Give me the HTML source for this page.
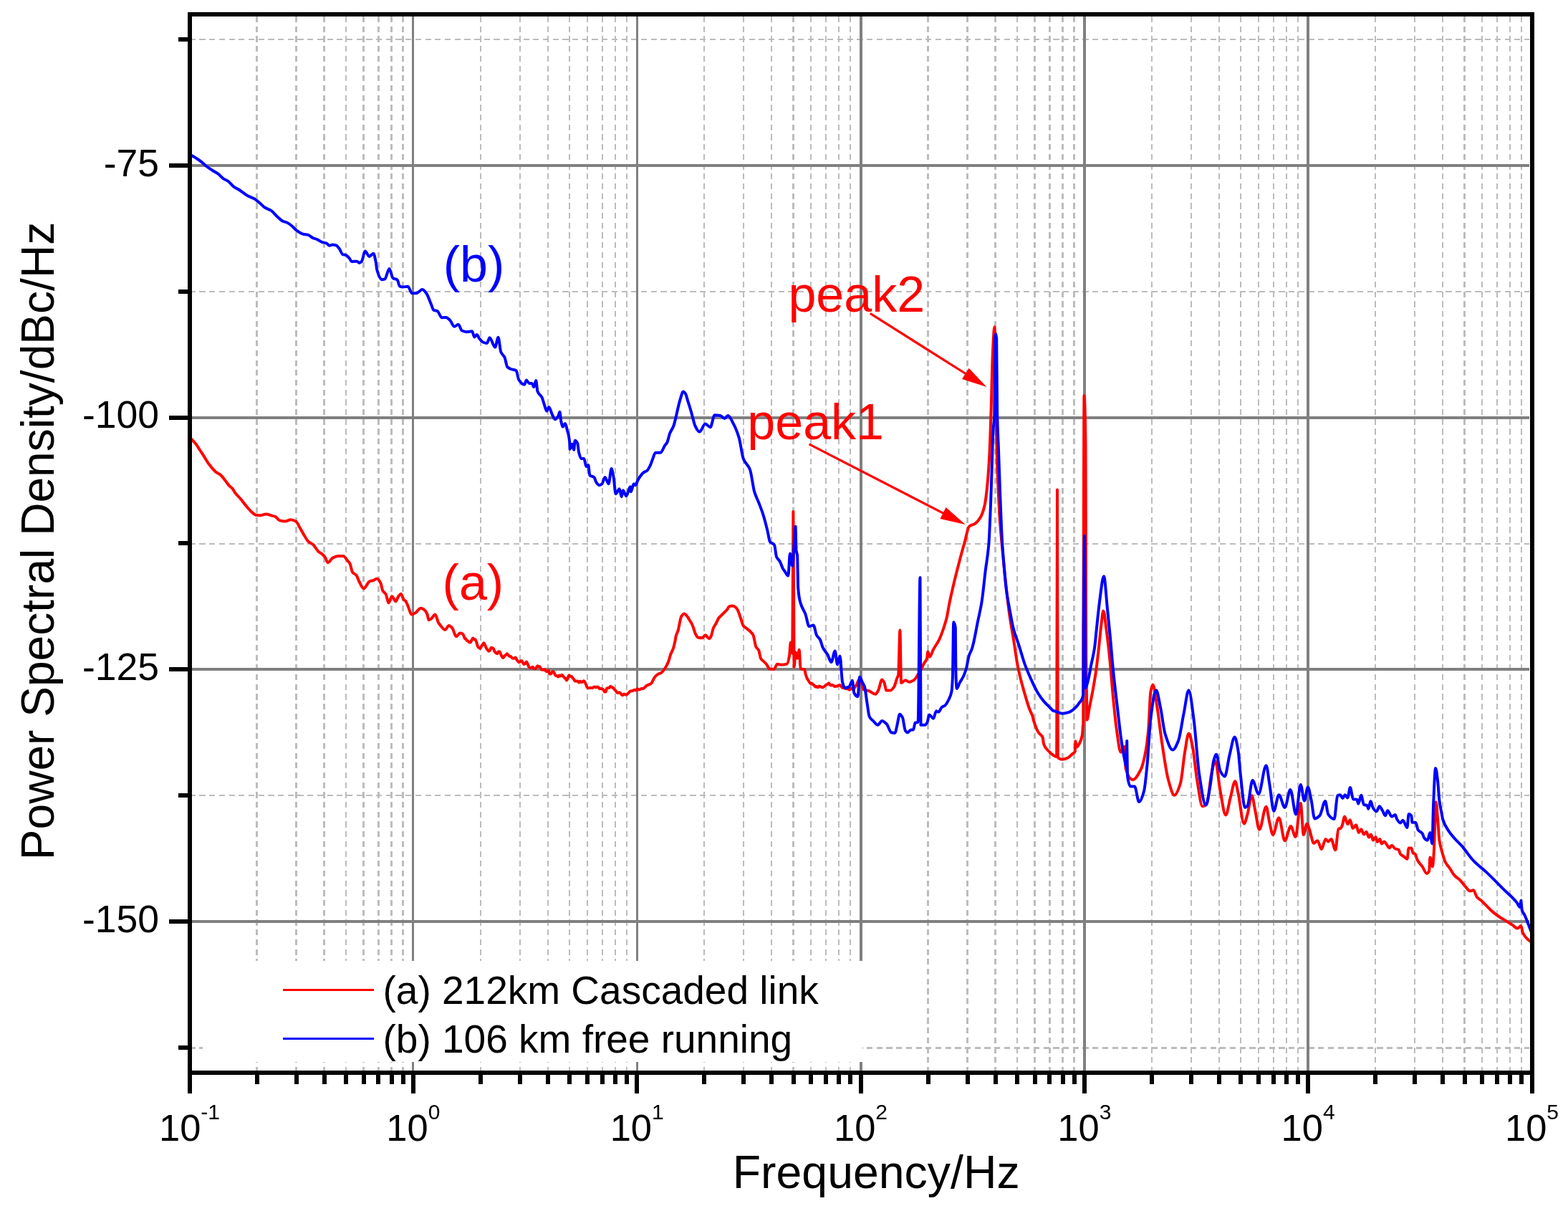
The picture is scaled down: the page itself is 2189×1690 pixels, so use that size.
<!DOCTYPE html>
<html><head><meta charset="utf-8"><title>Power Spectral Density</title>
<style>html,body{margin:0;padding:0;background:#fff;}svg{display:block;}text{font-family:"Liberation Sans",Arial,sans-serif;}</style></head><body>
<svg width="2189" height="1690" viewBox="0 0 2189 1690">
<rect x="0" y="0" width="2189" height="1690" fill="#fff"/>
<g fill="none" stroke="#bcbcbc" stroke-width="2.5" shape-rendering="crispEdges">
<path d="M358.5 23V1494 M413.5 23V1494 M452.5 23V1494 M482.8 23V1494 M507.5 23V1494 M528.4 23V1494 M546.6 23V1494 M562.5 23V1494 M670.9 23V1494 M725.8 23V1494 M764.9 23V1494 M795.1 23V1494 M819.9 23V1494 M840.8 23V1494 M858.9 23V1494 M874.9 23V1494 M983.2 23V1494 M1038.2 23V1494 M1077.2 23V1494 M1107.5 23V1494 M1132.2 23V1494 M1153.1 23V1494 M1171.2 23V1494 M1187.2 23V1494 M1295.5 23V1494 M1350.5 23V1494 M1389.5 23V1494 M1419.8 23V1494 M1444.5 23V1494 M1465.4 23V1494 M1483.6 23V1494 M1499.5 23V1494 M1607.8 23V1494 M1662.8 23V1494 M1701.9 23V1494 M1732.1 23V1494 M1756.9 23V1494 M1777.8 23V1494 M1795.9 23V1494 M1811.9 23V1494 M1920.2 23V1494 M1975.2 23V1494 M2014.2 23V1494 M2044.5 23V1494 M2069.2 23V1494 M2090.1 23V1494 M2108.2 23V1494 M2124.2 23V1494" stroke-dasharray="8.2 5.5" stroke-dashoffset="0"/>
<path d="M268 55.0H2135 M268 407.0H2135 M268 759.0H2135 M268 1110.0H2135 M268 1462.3H2135" stroke-dasharray="8.2 5.5" stroke-dashoffset="3.3"/>
</g>
<path d="M576.5 23V1494 M889.5 23V1494" fill="none" stroke="#808080" stroke-width="3" shape-rendering="crispEdges"/>
<path d="M1202 23V1494 M1514 23V1494 M1826 23V1494 M268 231H2135 M268 583H2135 M268 934H2135 M268 1286H2135" fill="none" stroke="#808080" stroke-width="4" shape-rendering="crispEdges"/>
<rect x="283" y="1341" width="921" height="141" fill="#fff"/>
<path d="M265.9 611.4C268.3 614.0 270.6 616.1 273.0 619.1C275.0 621.6 277.0 625.0 279.0 628.0C280.6 630.3 282.1 632.7 283.7 635.1C286.5 639.3 289.2 644.5 292.0 648.1C295.2 652.3 298.3 656.4 301.5 658.8C303.5 660.3 305.4 660.8 307.4 662.4C309.8 664.3 312.2 667.8 314.6 670.7C316.6 673.1 318.5 676.5 320.5 678.4C321.7 679.6 322.9 680.1 324.1 681.3C325.7 682.9 327.2 686.5 328.8 688.5C331.2 691.5 333.5 693.4 335.9 696.2C337.9 698.6 339.9 701.5 341.9 703.9C344.7 707.3 347.4 710.9 350.2 713.4C352.6 715.5 354.9 718.3 357.3 718.7C359.3 719.0 361.2 719.3 363.2 719.3C366.0 719.3 368.7 717.5 371.5 717.5C373.9 717.5 376.2 718.6 378.6 719.3C380.6 719.9 382.6 720.2 384.6 721.1C386.6 722.0 388.5 725.9 390.5 726.4C393.1 727.1 395.6 727.6 398.2 727.6C400.8 727.6 403.3 725.2 405.9 725.2C408.3 725.2 410.6 726.3 413.0 727.6C415.0 728.7 417.0 733.8 419.0 737.1C420.6 739.7 422.1 742.8 423.7 745.4C426.1 749.3 428.4 754.1 430.8 756.1C432.8 757.8 434.7 758.0 436.7 759.6C439.5 761.8 442.3 768.0 445.1 770.3C446.7 771.6 448.2 772.0 449.8 773.3C451.1 774.3 452.4 775.6 453.7 777.4C455.1 779.2 456.4 785.2 457.8 785.2C460.1 785.2 462.4 779.3 464.7 778.3C467.4 777.1 470.2 776.0 472.9 776.0C475.0 776.0 477.2 776.0 479.3 776.0C481.1 776.0 483.0 779.9 484.8 782.0C486.0 783.4 487.3 784.4 488.5 786.6C489.7 788.8 490.9 796.9 492.1 798.5C493.9 801.0 495.8 800.7 497.6 803.0C498.8 804.5 500.1 809.0 501.3 811.3C503.4 815.3 505.6 821.4 507.7 821.4C510.4 821.4 513.2 812.4 515.9 811.3C517.7 810.6 519.6 810.5 521.4 809.9C522.9 809.4 524.5 807.6 526.0 807.6C527.8 807.6 529.7 810.5 531.5 814.0C532.4 815.7 533.3 822.4 534.2 824.1C535.7 827.0 537.3 826.9 538.8 829.6C540.0 831.8 541.3 841.5 542.5 841.5C544.0 841.5 545.6 832.3 547.1 832.3C548.9 832.3 550.8 839.2 552.6 839.2C553.8 839.2 555.0 833.9 556.2 832.3C557.4 830.7 558.7 828.7 559.9 828.7C561.1 828.7 562.4 835.6 563.6 836.9C564.5 837.8 565.4 837.9 566.3 838.8C567.5 840.1 568.8 844.2 570.0 847.0C571.5 850.4 573.0 857.5 574.5 857.5C576.3 857.5 578.2 856.2 580.0 855.2C582.5 853.8 584.9 848.8 587.4 848.8C588.9 848.8 590.4 849.7 591.9 850.7C593.4 851.7 595.0 853.6 596.5 857.1C597.1 858.5 597.8 865.3 598.4 865.3C599.6 865.3 600.8 864.3 602.0 863.5C603.8 862.3 605.7 857.5 607.5 857.5C609.0 857.5 610.6 866.4 612.1 869.0C613.0 870.5 613.9 871.6 614.8 872.6C616.9 875.1 619.1 879.0 621.2 879.0C623.0 879.0 624.9 873.1 626.7 873.1C628.2 873.1 629.8 874.7 631.3 876.3C633.1 878.2 635.0 888.2 636.8 888.2C638.6 888.2 640.5 883.6 642.3 883.6C643.5 883.6 644.8 884.0 646.0 884.5C647.2 885.0 648.3 891.5 649.5 891.5L650.0 891.3C650.6 891.3 651.1 893.4 651.7 893.8C652.3 894.3 652.8 894.3 653.4 894.7C654.0 895.1 654.5 896.1 655.1 896.3C655.7 896.5 656.2 896.6 656.8 896.6C657.4 896.6 657.9 894.4 658.5 893.4C659.1 892.4 659.6 890.6 660.2 890.6C660.8 890.6 661.3 891.7 661.9 892.0C662.5 892.3 663.0 892.3 663.6 892.7C664.2 893.1 664.7 894.9 665.3 896.4C665.9 897.9 666.4 901.6 667.0 902.4C667.6 903.2 668.1 903.4 668.7 903.9C669.3 904.4 669.8 905.2 670.4 905.2C671.0 905.2 671.5 902.9 672.1 901.9C672.7 901.0 673.2 900.2 673.8 899.4C674.4 898.7 674.9 897.3 675.5 897.3C676.1 897.3 676.6 899.3 677.2 900.5C677.8 901.7 678.3 903.6 678.9 904.5C679.5 905.5 680.0 906.1 680.6 906.8C681.2 907.5 681.7 908.8 682.3 908.8C682.9 908.8 683.4 908.2 684.0 907.5C684.6 906.9 685.1 903.7 685.7 903.7C686.3 903.7 686.8 904.0 687.4 904.2C688.0 904.4 688.5 905.0 689.1 905.8C689.7 906.6 690.2 908.8 690.8 909.6C691.4 910.3 691.9 910.8 692.5 911.2C693.1 911.6 693.6 912.2 694.2 912.2C694.8 912.2 695.3 909.3 695.9 909.3C696.5 909.3 697.0 909.4 697.6 909.6C698.2 909.8 698.7 912.2 699.3 913.4C699.9 914.6 700.4 916.3 701.0 916.9C701.6 917.4 702.1 918.0 702.7 918.0C703.3 918.0 703.8 915.5 704.4 915.1C705.0 914.6 705.5 914.6 706.1 914.2C706.7 913.8 707.2 912.3 707.8 912.3C708.4 912.3 708.9 913.6 709.5 914.2C710.1 914.8 710.6 915.8 711.2 915.9C711.8 915.9 712.3 915.9 712.9 916.0C713.5 916.1 714.0 917.5 714.6 917.9C715.2 918.3 715.7 918.8 716.3 918.8C716.9 918.8 717.4 918.7 718.0 918.7C718.6 918.6 719.1 917.6 719.7 917.6C720.3 917.6 720.8 919.9 721.4 920.8C722.0 921.6 722.5 922.2 723.1 922.8C723.7 923.3 724.2 924.3 724.8 924.3C725.4 924.3 725.9 923.3 726.5 923.0C727.1 922.6 727.6 922.1 728.2 922.1C728.8 922.1 729.3 924.0 729.9 924.8C730.5 925.6 731.0 926.9 731.6 926.9C732.2 926.9 732.7 926.6 733.3 926.2C733.9 925.8 734.4 923.6 735.0 923.6C735.6 923.6 736.1 925.6 736.7 926.7C737.3 927.9 737.8 930.1 738.4 930.7C739.0 931.4 739.5 932.0 740.1 932.0C740.7 932.0 741.2 931.9 741.8 931.7C742.4 931.6 742.9 930.8 743.5 930.8C744.1 930.8 744.6 932.6 745.2 932.8C745.8 933.0 746.3 933.2 746.9 933.2C747.5 933.2 748.0 932.5 748.6 931.9C749.2 931.3 749.7 929.3 750.3 929.3C750.9 929.3 751.4 929.9 752.0 930.0C752.6 930.2 753.1 930.1 753.7 930.3C754.3 930.5 754.8 933.4 755.4 933.9C756.0 934.4 756.5 934.8 757.1 934.8C757.7 934.8 758.2 934.7 758.8 934.7C759.4 934.6 759.9 934.3 760.5 934.3C761.1 934.3 761.6 936.2 762.2 936.6C762.8 936.9 763.3 937.2 763.9 937.2C764.5 937.2 765.0 935.6 765.6 935.6C766.2 935.6 766.7 940.3 767.3 940.5C767.9 940.6 768.4 940.6 769.0 940.6C769.6 940.6 770.1 938.2 770.7 937.8C771.3 937.3 771.8 936.9 772.4 936.9C773.0 936.9 773.5 938.9 774.1 939.9C774.7 941.0 775.2 943.1 775.8 943.1C776.4 943.1 776.9 943.1 777.5 943.1C778.1 943.1 778.6 944.6 779.2 944.6C779.8 944.6 780.3 942.5 780.9 942.5C781.5 942.5 782.0 943.4 782.6 943.4C783.2 943.4 783.7 941.8 784.3 941.8C784.9 941.8 785.4 942.8 786.0 943.4C786.6 944.0 787.1 945.1 787.7 945.6C788.3 946.1 788.8 946.3 789.4 946.8C790.0 947.4 790.5 949.4 791.1 949.4C791.7 949.4 792.2 946.8 792.8 945.6C793.4 944.4 793.9 942.3 794.5 942.3C795.1 942.3 795.6 944.0 796.2 944.0C796.8 944.1 797.3 944.1 797.9 944.1C798.5 944.1 799.0 945.6 799.6 946.3C800.2 947.0 800.7 947.7 801.3 948.4C801.9 949.1 802.4 950.5 803.0 950.6C803.6 950.6 804.1 950.6 804.7 950.6C805.3 950.6 805.8 950.5 806.4 950.5C807.0 950.5 807.5 952.4 808.1 952.4C808.7 952.4 809.2 950.7 809.8 950.7C810.4 950.7 810.9 952.1 811.5 952.1C812.1 952.1 812.6 951.9 813.2 951.6C813.8 951.4 814.3 950.2 814.9 950.2C815.5 950.2 816.0 951.2 816.6 952.1C817.2 952.9 817.7 954.7 818.3 956.0C818.9 957.3 819.4 959.3 820.0 959.7C820.6 960.0 821.1 960.2 821.7 960.2C822.3 960.2 822.8 960.0 823.4 960.0C824.0 959.9 824.5 959.8 825.1 959.8C825.7 959.8 826.2 960.3 826.8 960.3C827.4 960.3 827.9 959.1 828.5 959.0C829.1 958.8 829.6 958.6 830.2 958.6C830.8 958.6 831.3 959.4 831.9 959.4C832.5 959.4 833.0 958.4 833.6 958.4C834.2 958.4 834.7 958.7 835.3 959.0C835.9 959.3 836.4 961.3 837.0 961.3C837.6 961.3 838.1 960.7 838.7 960.7C839.3 960.7 839.8 961.3 840.4 961.6C841.0 961.8 841.5 961.8 842.1 962.2C842.7 962.5 843.2 965.1 843.8 965.3C844.4 965.5 844.9 965.6 845.5 965.6C846.1 965.6 846.6 960.5 847.2 960.4C847.8 960.2 848.3 960.2 848.9 960.1C849.5 960.0 850.0 959.9 850.6 959.6C851.2 959.4 851.7 957.8 852.3 957.8C852.9 957.8 853.4 959.0 854.0 959.1C854.6 959.3 855.1 959.2 855.7 959.4C856.3 959.5 856.8 961.3 857.4 961.9C858.0 962.5 858.5 962.7 859.1 963.3C859.7 963.9 860.2 965.2 860.8 965.8C861.4 966.4 861.9 967.1 862.5 967.1C863.1 967.1 863.6 966.3 864.2 966.3C864.8 966.3 865.3 966.7 865.9 967.1C866.5 967.5 867.0 968.6 867.6 969.1C868.2 969.6 868.7 970.2 869.3 970.2C869.9 970.2 870.4 968.6 871.0 968.6C871.6 968.6 872.1 969.1 872.7 969.3C873.3 969.5 873.8 969.7 874.4 969.7C875.0 969.7 875.5 968.8 876.1 968.3C876.7 967.8 877.2 967.3 877.8 966.8C878.4 966.2 878.9 965.3 879.5 964.9C880.1 964.6 880.6 964.2 881.2 964.2C881.8 964.2 882.3 964.2 882.9 964.2C883.5 964.2 884.0 963.1 884.6 963.0C885.2 962.9 885.7 962.8 886.3 962.8C886.9 962.8 887.4 963.5 888.0 963.5C888.6 963.5 889.1 961.2 889.7 961.2C890.3 961.2 890.8 962.2 891.4 962.3C892.0 962.4 892.5 962.5 893.1 962.5C893.7 962.5 894.2 961.2 894.8 961.1C895.8 961.0 896.7 961.0 897.7 960.9C899.3 960.7 900.9 958.0 902.5 957.0C904.7 955.6 907.0 955.5 909.2 953.7C910.8 952.4 912.4 946.9 914.0 945.0C915.6 943.1 917.2 941.5 918.8 940.7C920.1 940.0 921.4 939.9 922.7 939.2C924.6 938.1 926.6 935.4 928.5 932.5C930.1 930.1 931.7 927.0 933.3 922.9C934.3 920.4 935.2 915.9 936.2 913.3C937.5 909.8 938.7 908.4 940.0 904.6C940.8 902.2 941.6 898.8 942.4 895.0C942.9 892.8 943.3 889.0 943.8 887.3C944.8 883.7 945.7 883.0 946.7 879.6C947.4 877.3 948.0 872.9 948.7 870.0C949.5 866.5 950.3 861.7 951.1 860.4C952.5 858.1 954.0 856.5 955.4 856.5C956.7 856.5 957.9 858.4 959.2 859.9C960.5 861.4 961.8 864.1 963.1 866.2C964.1 867.8 965.0 869.0 966.0 871.0C966.6 872.3 967.3 874.1 967.9 875.8C968.9 878.4 969.8 882.5 970.8 884.4C972.1 886.8 973.3 889.5 974.6 889.7C976.5 890.0 978.5 890.2 980.4 890.2C981.8 890.2 983.3 886.3 984.7 886.3C986.5 886.3 988.2 891.2 990.0 891.2C991.0 891.2 991.9 889.2 992.9 887.3C993.9 885.4 994.8 879.0 995.8 876.7C997.1 873.6 998.3 872.4 999.6 870.0C1000.9 867.6 1002.2 864.0 1003.5 862.3C1004.8 860.6 1006.0 859.8 1007.3 858.5C1008.6 857.2 1009.9 855.9 1011.2 854.6C1012.5 853.3 1013.7 852.3 1015.0 850.8C1016.0 849.6 1016.9 846.7 1017.9 846.4C1019.5 845.8 1021.1 845.5 1022.7 845.5C1024.3 845.5 1025.9 846.6 1027.5 847.9C1028.5 848.7 1029.4 850.7 1030.4 852.7C1031.7 855.3 1032.9 859.8 1034.2 863.3C1035.5 866.9 1036.8 872.3 1038.1 873.8C1039.4 875.3 1040.6 875.7 1041.9 876.7C1043.8 878.2 1045.8 879.5 1047.7 881.5C1049.0 882.8 1050.2 883.8 1051.5 886.3C1052.8 888.8 1054.1 900.2 1055.4 902.7C1056.7 905.2 1057.9 905.0 1059.2 907.5C1060.2 909.4 1061.1 917.4 1062.1 919.0C1063.4 921.1 1064.7 921.6 1066.0 922.9C1067.3 924.2 1068.5 925.2 1069.8 926.7C1071.4 928.6 1073.0 933.3 1074.6 933.5C1076.5 933.8 1078.5 933.9 1080.4 933.9C1082.0 933.9 1083.6 926.7 1085.2 926.7C1086.8 926.7 1088.4 927.7 1090.0 927.7C1092.9 927.7 1095.7 927.4 1098.6 926.6C1099.7 926.3 1100.9 921.4 1102.0 915.4C1102.6 912.2 1103.2 896.5 1103.8 896.5C1104.6 896.5 1105.5 911.9 1106.3 911.9L1107.4 714.1L1108.6 930.9C1109.3 930.9 1109.9 910.2 1110.6 910.2C1111.5 910.2 1112.3 918.8 1113.2 918.8C1114.1 918.8 1114.9 906.8 1115.8 906.8C1116.4 906.8 1116.9 932.2 1117.5 932.6C1119.2 933.9 1121.0 934.3 1122.7 934.3L1123.0 933.9C1123.6 933.9 1124.1 938.8 1124.7 940.8C1125.3 942.7 1125.8 944.7 1126.4 946.0C1127.0 947.2 1127.5 948.1 1128.1 949.0C1128.7 950.0 1129.2 950.9 1129.8 951.7C1130.4 952.5 1130.9 953.9 1131.5 953.9C1132.1 953.9 1132.6 953.6 1133.2 953.6C1133.8 953.6 1134.3 954.9 1134.9 955.3C1135.5 955.8 1136.0 955.9 1136.6 956.4C1137.2 956.9 1137.7 958.5 1138.3 958.5C1138.9 958.5 1139.4 958.1 1140.0 958.1C1140.6 958.1 1141.1 959.3 1141.7 959.3C1142.3 959.3 1142.8 957.5 1143.4 957.5C1144.0 957.5 1144.5 957.8 1145.1 958.0C1145.7 958.2 1146.2 958.6 1146.8 958.8C1147.4 959.0 1147.9 959.4 1148.5 959.4C1149.1 959.4 1149.6 958.7 1150.2 958.3C1150.8 957.9 1151.3 957.5 1151.9 957.0C1152.5 956.5 1153.0 955.5 1153.6 955.3C1154.2 955.1 1154.7 955.1 1155.3 954.9C1155.9 954.7 1156.4 953.3 1157.0 953.3C1157.6 953.3 1158.1 954.9 1158.7 955.4C1159.3 955.9 1159.8 956.6 1160.4 956.6C1161.0 956.6 1161.5 956.0 1162.1 956.0C1162.7 956.0 1163.2 956.6 1163.8 956.9C1164.4 957.3 1164.9 958.2 1165.5 958.2C1166.1 958.2 1166.6 957.5 1167.2 957.5C1167.8 957.5 1168.3 957.7 1168.9 957.7C1169.5 957.7 1170.0 956.5 1170.6 956.3C1171.2 956.1 1171.7 956.0 1172.3 956.0C1172.9 956.0 1173.4 956.8 1174.0 957.3C1174.6 957.9 1175.1 959.8 1175.7 959.8C1176.3 959.8 1176.8 959.6 1177.4 959.6C1178.0 959.6 1178.5 960.3 1179.1 960.5C1179.7 960.7 1180.2 960.9 1180.8 961.0C1181.4 961.0 1181.9 961.1 1182.5 961.2C1183.1 961.2 1183.6 961.2 1184.2 961.3C1184.8 961.4 1185.3 962.8 1185.9 962.8C1186.5 962.8 1187.0 961.1 1187.6 960.9C1188.2 960.7 1188.7 960.5 1189.3 960.5C1189.9 960.5 1190.4 962.4 1191.0 962.4C1191.6 962.4 1192.1 960.9 1192.7 960.2C1193.3 959.4 1193.8 958.7 1194.4 957.9C1196.7 954.5 1199.0 946.6 1201.3 946.6C1202.6 946.6 1203.9 961.5 1205.2 962.2C1207.8 963.6 1210.4 963.3 1213.0 964.2C1216.1 965.2 1219.1 968.8 1222.2 968.8C1223.5 968.8 1224.8 965.9 1226.1 963.5C1227.8 960.4 1229.6 948.5 1231.3 948.5C1232.4 948.5 1233.5 950.8 1234.6 953.1C1235.5 954.9 1236.3 963.5 1237.2 963.5C1239.2 963.5 1241.1 963.5 1243.1 963.5C1244.8 963.5 1246.6 961.0 1248.3 958.3C1249.6 956.3 1250.9 950.2 1252.2 946.6C1252.9 944.8 1253.5 944.5 1254.2 941.4C1254.9 938.0 1255.7 879.4 1256.4 879.4C1257.0 879.4 1257.5 953.1 1258.1 953.1C1260.1 953.1 1262.0 949.2 1264.0 949.2C1265.7 949.2 1267.5 951.8 1269.2 951.8C1271.4 951.8 1273.5 950.5 1275.7 949.2C1277.7 948.0 1279.6 944.4 1281.6 941.4C1283.1 939.1 1284.6 936.3 1286.1 933.5C1287.4 931.1 1288.7 928.0 1290.0 925.7C1291.3 923.3 1292.7 923.2 1294.0 919.2C1294.4 917.9 1294.9 909.4 1295.3 909.4C1296.2 909.4 1297.0 916.6 1297.9 916.6C1299.6 916.6 1301.4 909.3 1303.1 906.1C1305.7 901.3 1308.3 898.4 1310.9 893.1C1313.1 888.6 1315.3 882.6 1317.5 876.1C1318.8 872.3 1320.1 868.4 1321.4 863.1C1322.8 857.5 1324.1 848.1 1325.5 841.4C1327.3 832.5 1329.2 824.6 1331.0 816.8C1333.7 805.2 1336.5 794.4 1339.2 784.0C1341.9 773.6 1344.7 763.8 1347.4 754.0C1349.2 747.5 1351.0 736.6 1352.8 734.9C1355.5 732.4 1358.3 732.7 1361.0 730.8C1363.7 728.9 1366.5 725.9 1369.2 721.2C1371.0 718.0 1372.9 712.9 1374.7 704.8C1376.1 698.7 1377.4 686.7 1378.8 672.1C1379.7 662.5 1380.6 649.0 1381.5 631.1C1382.3 615.2 1383.1 589.7 1383.9 563.4C1384.4 545.8 1385.0 513.8 1385.5 501.7C1386.5 478.9 1387.5 456.2 1388.5 456.2C1389.1 456.2 1389.6 516.9 1390.2 549.0C1390.7 575.4 1391.1 614.2 1391.6 631.1C1392.5 664.8 1393.5 678.9 1394.4 699.4L1395.3 717.8C1396.8 741.7 1398.3 754.7 1399.8 771.1C1401.3 787.1 1402.7 802.2 1404.2 815.6C1406.0 832.0 1407.8 847.5 1409.6 860.0C1411.4 872.3 1413.1 881.1 1414.9 892.0C1417.0 904.7 1419.0 920.9 1421.1 931.1C1423.8 944.3 1426.4 953.6 1429.1 963.1C1432.1 973.7 1435.0 983.9 1438.0 991.6C1439.2 994.7 1440.4 995.9 1441.6 999.7L1442.7 1004.6C1445.1 1012.7 1447.4 1018.5 1449.8 1022.3C1451.8 1025.5 1453.8 1024.5 1455.8 1029.5L1456.9 1037.8C1459.3 1044.9 1461.7 1045.8 1464.1 1048.4C1466.5 1050.9 1468.8 1053.2 1471.2 1054.4C1472.5 1055.1 1473.9 1056.0 1475.2 1056.0L1476.0 683.4L1476.8 1057.0C1478.9 1059.4 1480.9 1059.7 1483.0 1059.7C1485.4 1059.7 1487.8 1058.8 1490.2 1057.9C1492.6 1057.0 1494.9 1054.2 1497.3 1052.0C1498.5 1050.9 1499.6 1051.3 1500.8 1048.4L1501.4 1034.2C1502.0 1034.2 1502.6 1042.5 1503.2 1042.5C1504.4 1042.5 1505.6 1039.9 1506.8 1037.8C1508.2 1035.4 1509.5 1032.8 1510.9 1025.9C1511.4 1023.5 1511.8 1010.5 1512.3 1010.5L1512.3 870.0C1512.7 870.0 1513.1 551.9 1513.5 551.9C1514.2 551.9 1514.8 572.8 1515.5 620.0L1516.3 919.0L1517.4 1004.6C1518.6 1004.6 1519.8 992.8 1521.0 986.8C1522.6 979.0 1524.1 971.7 1525.7 963.0C1527.3 954.1 1528.9 944.9 1530.5 933.4C1531.7 925.0 1532.8 914.1 1534.0 903.7C1535.2 893.0 1536.4 879.1 1537.6 870.0C1538.5 863.2 1539.4 852.5 1540.3 852.5C1541.8 852.5 1543.2 869.3 1544.7 880.0C1546.2 891.1 1547.8 904.9 1549.3 920.0C1550.8 935.1 1552.4 956.7 1553.9 972.5C1555.4 988.3 1557.0 1004.9 1558.5 1015.7C1560.6 1030.2 1562.6 1049.7 1564.7 1049.7C1566.5 1049.7 1568.3 1042.0 1570.1 1042.0C1570.6 1042.0 1571.1 1071.0 1571.6 1072.8C1574.9 1084.9 1578.3 1088.2 1581.6 1088.2C1585.2 1088.2 1588.8 1081.4 1592.4 1074.4C1594.5 1070.4 1596.5 1062.8 1598.6 1052.8C1600.1 1045.4 1601.7 1035.0 1603.2 1018.8C1604.2 1007.9 1605.3 972.4 1606.3 966.4C1607.3 960.4 1608.4 955.6 1609.4 955.6C1611.5 955.6 1613.5 975.3 1615.6 988.0C1617.7 1000.7 1619.7 1020.5 1621.8 1034.2C1624.9 1054.5 1627.9 1077.4 1631.0 1088.2C1633.8 1098.2 1636.7 1109.8 1639.5 1109.8C1642.3 1109.8 1645.2 1102.0 1648.0 1092.9C1650.0 1086.4 1652.1 1061.4 1654.1 1049.7C1655.9 1039.4 1657.7 1023.5 1659.5 1023.5C1661.3 1023.5 1663.1 1033.6 1664.9 1042.0C1667.0 1051.6 1669.0 1076.0 1671.1 1088.2C1673.7 1103.3 1676.2 1125.3 1678.8 1125.3C1680.9 1125.3 1682.9 1123.4 1685.0 1120.6C1687.1 1117.8 1689.1 1089.7 1691.2 1080.5C1693.0 1072.5 1694.8 1062.0 1696.6 1062.0C1698.9 1062.0 1701.2 1091.9 1703.5 1103.7C1706.1 1116.8 1708.6 1137.6 1711.2 1137.6C1713.4 1137.6 1715.6 1120.6 1717.8 1112.7C1720.0 1104.9 1722.1 1090.2 1724.3 1090.2C1725.7 1090.2 1727.1 1100.6 1728.5 1106.8C1731.3 1119.0 1734.0 1149.5 1736.8 1149.5C1738.4 1149.5 1739.9 1141.7 1741.5 1136.4C1743.5 1129.7 1745.5 1110.3 1747.5 1110.3C1749.1 1110.3 1750.6 1123.5 1752.2 1130.5C1754.2 1139.3 1756.1 1157.8 1758.1 1157.8C1761.3 1157.8 1764.4 1125.8 1767.6 1125.8C1769.2 1125.8 1770.8 1141.9 1772.4 1148.3C1774.0 1154.6 1775.5 1164.9 1777.1 1164.9C1779.9 1164.9 1782.6 1141.2 1785.4 1141.2C1788.2 1141.2 1790.9 1173.2 1793.7 1173.2C1796.5 1173.2 1799.2 1153.1 1802.0 1153.1C1804.2 1153.1 1806.4 1167.9 1808.6 1167.9C1811.0 1167.9 1813.3 1121.0 1815.7 1121.0C1817.1 1121.0 1818.4 1164.9 1819.8 1164.9C1821.4 1164.9 1823.0 1149.5 1824.6 1149.5C1825.8 1149.5 1826.9 1154.7 1828.1 1157.8C1830.1 1163.2 1832.1 1176.8 1834.1 1176.8C1835.9 1176.8 1837.6 1173.2 1839.4 1173.2C1841.2 1173.2 1843.0 1185.1 1844.8 1185.1C1846.8 1185.1 1848.7 1170.9 1850.7 1170.9C1851.9 1170.9 1853.0 1174.4 1854.2 1174.4C1855.6 1174.4 1857.0 1170.9 1858.4 1170.9C1860.4 1170.9 1862.3 1186.3 1864.3 1186.3C1865.7 1186.3 1867.1 1157.1 1868.5 1156.6C1869.4 1156.3 1870.4 1156.4 1871.3 1156.1C1872.1 1155.8 1872.8 1154.1 1873.6 1152.5C1874.8 1150.0 1876.0 1139.5 1877.2 1139.5C1878.6 1139.5 1879.9 1150.1 1881.3 1150.1C1882.5 1150.1 1883.7 1144.2 1884.9 1144.2C1886.1 1144.2 1887.3 1156.1 1888.5 1156.1C1890.1 1156.1 1891.6 1151.3 1893.2 1151.3C1894.4 1151.3 1895.6 1162.0 1896.8 1162.0C1898.0 1162.0 1899.1 1157.3 1900.3 1157.3C1901.5 1157.3 1902.7 1164.4 1903.9 1164.4C1905.1 1164.4 1906.2 1160.8 1907.4 1160.8C1908.6 1160.8 1909.8 1168.5 1911.0 1168.5C1912.0 1168.5 1913.0 1164.4 1914.0 1164.4C1915.0 1164.4 1915.9 1172.7 1916.9 1172.7C1918.1 1172.7 1919.3 1167.9 1920.5 1167.9C1921.3 1167.9 1922.1 1175.0 1922.9 1175.0C1924.1 1175.0 1925.2 1170.9 1926.4 1170.9C1927.2 1170.9 1928.0 1177.4 1928.8 1177.4C1930.0 1177.4 1931.2 1174.5 1932.4 1174.5C1933.6 1174.5 1934.7 1177.1 1935.9 1178.6C1937.1 1180.1 1938.3 1183.4 1939.5 1183.4C1940.7 1183.4 1941.8 1179.8 1943.0 1179.8C1944.6 1179.8 1946.2 1183.9 1947.8 1184.5C1949.4 1185.1 1950.9 1184.9 1952.5 1185.7C1953.3 1186.1 1954.1 1190.7 1954.9 1191.7C1956.5 1193.6 1958.0 1194.0 1959.6 1195.2C1961.2 1196.4 1962.8 1198.8 1964.4 1198.8C1965.2 1198.8 1965.9 1183.4 1966.7 1183.4C1967.9 1183.4 1969.1 1183.4 1970.3 1183.4C1971.1 1183.4 1971.9 1189.9 1972.7 1190.5C1973.7 1191.2 1974.6 1191.0 1975.6 1191.7C1976.6 1192.4 1977.6 1198.1 1978.6 1200.0C1981.0 1204.5 1983.3 1206.0 1985.7 1209.4C1987.7 1212.3 1989.7 1218.9 1991.7 1218.9C1992.9 1218.9 1994.0 1218.0 1995.2 1215.4C1995.6 1214.5 1996.0 1196.4 1996.4 1196.4C1997.6 1196.4 1998.7 1209.4 1999.9 1209.4C2000.5 1209.4 2001.1 1199.0 2001.7 1190.5C2002.7 1176.4 2003.7 1119.3 2004.7 1119.3C2005.5 1119.3 2006.3 1134.0 2007.1 1143.0C2007.9 1151.6 2008.6 1167.6 2009.4 1172.7C2010.6 1180.7 2011.8 1183.7 2013.0 1188.1C2014.6 1193.9 2016.2 1200.0 2017.8 1203.1C2019.8 1207.0 2021.7 1208.6 2023.7 1211.4C2026.1 1214.8 2028.4 1219.5 2030.8 1222.0C2033.2 1224.6 2035.6 1225.7 2038.0 1228.0C2040.4 1230.3 2042.7 1233.7 2045.1 1236.3C2047.5 1238.9 2049.8 1243.4 2052.2 1243.4C2053.8 1243.4 2055.4 1242.2 2057.0 1242.2C2058.6 1242.2 2060.1 1249.8 2061.7 1251.7C2064.1 1254.6 2066.4 1255.4 2068.8 1257.6C2070.4 1259.1 2072.0 1260.8 2073.6 1262.4C2076.8 1265.6 2079.9 1269.2 2083.1 1271.9C2086.2 1274.6 2089.4 1276.9 2092.5 1279.0C2095.7 1281.2 2098.8 1282.9 2102.0 1284.9C2105.2 1286.9 2108.3 1288.9 2111.5 1290.9C2113.9 1292.4 2116.3 1295.6 2118.7 1295.6C2120.3 1295.6 2121.8 1292.0 2123.4 1292.0C2124.2 1292.0 2125.0 1299.7 2125.8 1301.5C2127.8 1305.9 2129.7 1307.8 2131.7 1309.8C2133.6 1311.8 2135.6 1312.9 2137.5 1314.5" fill="none" stroke="#ff0000" stroke-width="4" stroke-linejoin="round" stroke-linecap="round"/>
<path d="M265.7 216.1C268.2 217.5 270.8 218.8 273.3 220.4C275.8 222.0 278.4 223.6 280.9 225.6C283.4 227.6 286.0 230.3 288.5 232.3C291.0 234.3 293.6 235.9 296.1 237.5C298.9 239.3 301.8 240.6 304.6 242.7C306.8 244.3 309.0 247.4 311.2 248.9C313.7 250.7 316.3 251.3 318.8 253.1C321.3 254.9 323.9 258.9 326.4 260.7C328.9 262.5 331.5 263.4 334.0 265.0C337.8 267.4 341.6 271.0 345.4 273.1C348.6 274.8 351.7 275.5 354.9 277.3C357.7 278.9 360.6 281.6 363.4 284.0C365.3 285.6 367.2 288.0 369.1 289.2C372.3 291.3 375.4 291.8 378.6 293.9C381.1 295.6 383.7 299.2 386.2 301.5C389.0 304.1 391.9 307.3 394.7 308.6C396.6 309.5 398.5 309.7 400.4 310.5C402.9 311.6 405.5 313.6 408.0 315.7C409.9 317.3 411.8 320.0 413.7 321.4C416.9 323.7 420.0 326.0 423.2 326.7C425.4 327.2 427.6 327.1 429.8 327.6C432.3 328.2 434.9 331.4 437.4 332.4C439.0 333.0 440.6 333.2 442.2 333.8C444.7 334.7 447.3 337.2 449.8 338.0C451.8 338.6 453.7 338.7 455.7 339.4C457.1 339.9 458.6 342.8 460.0 342.8C461.4 342.8 462.8 341.6 464.2 341.6C465.8 341.6 467.4 341.9 469.0 342.3C470.6 342.7 472.1 345.0 473.7 347.0C475.3 349.0 476.9 354.6 478.5 355.1C479.9 355.6 481.3 355.5 482.7 355.9C484.5 356.4 486.2 358.7 488.0 360.8C488.9 361.9 489.9 365.1 490.8 365.1C492.1 365.1 493.3 364.8 494.6 364.8C495.9 364.8 497.1 364.8 498.4 364.8C499.5 364.8 500.6 367.0 501.7 367.0C502.8 367.0 503.9 365.8 505.0 364.6C506.6 362.8 508.2 350.4 509.8 350.4C511.7 350.4 513.6 358.0 515.5 358.0C517.4 358.0 519.3 353.7 521.2 353.7C522.5 353.7 523.7 360.4 525.0 367.4L525.9 375.0C528.4 384.8 531.0 390.2 533.5 390.2C534.8 390.2 536.0 389.8 537.3 389.3C539.4 388.5 541.4 375.0 543.5 375.0C545.2 375.0 547.0 387.3 548.7 388.3C550.6 389.4 552.5 389.0 554.4 390.2C555.7 391.0 556.9 399.2 558.2 399.7C559.5 400.2 560.7 400.6 562.0 400.6C564.5 400.6 567.0 399.7 569.5 399.7C571.4 399.7 573.3 409.2 575.2 409.2C577.1 409.2 579.0 409.2 580.9 409.2C582.2 409.2 583.4 408.0 584.7 407.3C586.3 406.4 587.9 404.0 589.5 404.0C591.4 404.0 593.3 406.7 595.2 409.2C597.4 412.0 599.6 419.4 601.8 424.4C603.1 427.3 604.3 432.4 605.6 432.9C607.2 433.5 608.7 433.3 610.3 433.9C612.5 434.7 614.8 443.3 617.0 443.3C618.9 443.3 620.8 442.9 622.7 442.9C624.6 442.9 626.5 445.2 628.4 447.1C630.3 449.0 632.2 455.7 634.1 455.7C636.0 455.7 637.9 452.8 639.8 452.8C641.4 452.8 643.1 460.5 644.7 461.3C646.9 462.4 649.2 463.2 651.4 463.2C653.9 463.2 656.5 462.3 659.0 462.3C660.1 462.3 661.2 470.4 662.3 470.4C663.4 470.4 664.5 467.0 665.6 467.0C666.9 467.0 668.1 471.2 669.4 472.7C671.0 474.6 672.6 476.9 674.2 477.5C676.1 478.3 677.9 478.9 679.8 478.9C681.1 478.9 682.3 471.3 683.6 471.3C686.1 471.3 688.7 484.6 691.2 484.6C692.6 484.6 694.1 470.8 695.5 470.8C696.8 470.8 698.0 488.2 699.3 491.2C701.0 495.3 702.8 495.1 704.5 498.8C705.8 501.5 707.0 510.8 708.3 512.1C709.9 513.8 711.5 514.3 713.1 515.0C715.6 516.0 718.1 515.8 720.6 517.3C721.9 518.1 723.1 528.2 724.4 530.1C726.9 533.9 729.5 536.8 732.0 536.8C733.0 536.8 733.9 530.6 734.9 530.6C736.2 530.6 737.4 534.9 738.7 534.9C740.0 534.9 741.2 534.9 742.5 534.9C743.4 534.9 744.4 540.1 745.3 540.1C746.3 540.1 747.2 531.1 748.2 531.1C749.0 531.1 749.7 544.4 750.5 546.3C752.6 551.5 754.6 550.7 756.7 554.8C757.8 557.0 758.9 562.1 760.0 565.2C761.1 568.3 762.2 573.8 763.3 573.8C764.3 573.8 765.2 568.1 766.2 568.1C767.8 568.1 769.3 575.4 770.9 578.5C772.2 581.0 773.4 585.2 774.7 585.2C776.3 585.2 777.9 583.0 779.5 580.4C780.1 579.4 780.8 574.7 781.4 574.7C782.0 574.7 782.7 585.1 783.3 588.0C784.1 591.5 784.8 595.6 785.6 595.6C786.7 595.6 787.9 590.9 789.0 590.9C789.9 590.9 790.9 596.4 791.8 600.0C792.9 604.2 794.0 605.5 795.1 615.7L795.6 626.8C796.6 626.8 797.6 619.7 798.6 619.7C799.5 619.7 800.3 627.8 801.2 627.8C801.7 627.8 802.2 614.7 802.7 614.7C803.9 614.7 805.0 616.3 806.2 618.7C806.9 620.1 807.5 629.2 808.2 631.8C809.2 635.8 810.3 639.9 811.3 639.9C812.6 639.9 814.0 639.9 815.3 639.9C816.3 639.9 817.3 651.0 818.3 651.0C819.3 651.0 820.3 649.0 821.3 649.0C822.0 649.0 822.6 662.4 823.3 663.1C825.3 665.3 827.4 664.3 829.4 666.1C830.4 667.0 831.4 671.7 832.4 673.1C833.8 675.1 835.1 677.2 836.5 677.2C837.8 677.2 839.2 676.3 840.5 675.2C841.8 674.1 843.2 666.1 844.5 666.1C846.2 666.1 847.9 675.2 849.6 675.2C850.9 675.2 852.3 654.0 853.6 654.0C854.6 654.0 855.6 660.8 856.6 666.1C857.6 671.4 858.6 689.3 859.6 689.3C861.3 689.3 863.0 682.2 864.7 682.2C865.7 682.2 866.7 693.3 867.7 693.3C868.4 693.3 869.0 684.2 869.7 684.2C871.2 684.2 872.8 692.3 874.3 692.3C876.1 692.3 878.0 679.2 879.8 679.2L880.8 686.2C882.1 686.2 883.5 675.2 884.8 675.2C885.5 675.2 886.2 677.2 886.9 677.2C888.2 677.2 889.6 671.2 890.9 669.1C893.6 664.8 896.3 660.8 899.0 659.0C900.3 658.1 901.7 658.0 903.0 657.0C904.7 655.8 906.3 652.4 908.0 649.0C909.0 646.9 910.0 643.3 911.0 640.9C912.4 637.6 913.7 631.8 915.1 631.8C917.4 631.8 919.8 631.8 922.1 631.8C924.1 631.8 926.2 624.7 928.2 621.7C929.2 620.2 930.2 619.6 931.2 617.7C932.5 615.2 933.9 607.9 935.2 604.6C936.9 600.4 938.6 599.0 940.3 594.5C941.3 591.9 942.3 587.4 943.3 583.4C944.3 579.4 945.3 574.4 946.3 570.3C947.3 566.0 948.4 561.4 949.4 558.2C950.9 553.5 952.4 546.6 953.9 546.6C954.9 546.6 955.9 547.9 956.9 549.2C958.1 550.8 959.2 556.5 960.4 560.2C961.8 564.5 963.1 568.6 964.5 573.3C965.5 576.7 966.5 580.9 967.5 584.4C968.5 587.9 969.5 592.5 970.5 594.5C972.5 598.6 974.6 602.6 976.6 602.6C979.3 602.6 981.9 591.6 984.6 591.6C986.9 591.6 989.3 596.2 991.6 596.2C993.6 596.2 995.7 579.3 997.7 579.3C1000.3 579.3 1002.9 579.6 1005.5 580.0C1007.5 580.3 1009.6 583.9 1011.6 583.9C1013.1 583.9 1014.7 580.0 1016.2 580.0C1018.8 580.0 1021.4 586.7 1024.0 591.6C1026.6 596.4 1029.1 602.3 1031.7 610.9C1033.7 617.7 1035.8 635.0 1037.8 640.2C1040.9 648.1 1044.0 647.6 1047.1 655.6C1049.1 660.9 1051.2 679.6 1053.2 686.4C1055.3 693.3 1057.3 696.4 1059.4 701.8C1061.5 707.2 1063.5 712.2 1065.6 718.8C1067.6 725.3 1069.7 733.5 1071.7 741.9C1072.7 746.2 1073.8 754.4 1074.8 755.8C1076.9 758.7 1078.9 757.5 1081.0 760.4C1082.0 761.9 1083.1 775.0 1084.1 777.3C1085.6 780.7 1087.2 780.9 1088.7 783.5C1090.2 786.1 1091.8 791.9 1093.3 794.3C1093.9 795.3 1094.6 795.9 1095.2 796.7C1096.9 798.9 1098.6 803.5 1100.3 803.5C1101.2 803.5 1102.0 772.6 1102.9 772.6C1104.0 772.6 1105.2 789.8 1106.3 789.8C1107.7 789.8 1109.2 734.7 1110.6 734.7L1111.5 767.4C1112.1 772.9 1112.6 770.3 1113.2 776.0L1114.1 819.0C1115.2 834.4 1116.4 837.4 1117.5 841.4C1119.8 849.6 1122.1 850.7 1124.4 856.9C1126.1 861.6 1127.9 874.1 1129.6 874.1C1131.6 874.1 1133.6 872.4 1135.6 872.4C1137.0 872.4 1138.5 883.4 1139.9 886.1C1141.6 889.4 1143.4 889.7 1145.1 893.0C1146.2 895.2 1147.4 900.9 1148.5 903.3C1150.8 908.1 1153.1 909.7 1155.4 913.7C1157.1 916.7 1158.8 924.0 1160.5 924.0C1162.2 924.0 1164.0 908.5 1165.7 908.5C1166.8 908.5 1168.0 927.4 1169.1 927.4C1170.3 927.4 1171.4 915.4 1172.6 915.4C1173.7 915.4 1174.9 947.0 1176.0 951.5C1177.2 956.2 1178.3 960.1 1179.5 960.1C1181.5 960.1 1183.5 959.4 1185.5 958.4C1186.9 957.7 1188.4 949.8 1189.8 949.8C1190.7 949.8 1191.5 965.3 1192.4 967.0C1194.1 970.3 1195.8 972.2 1197.5 972.2C1198.4 972.2 1199.2 944.6 1200.1 944.6C1201.2 944.6 1202.4 949.2 1203.5 951.5C1204.7 953.8 1205.8 954.9 1207.0 958.4C1208.1 961.8 1209.3 973.5 1210.4 980.5C1211.5 987.3 1212.6 997.9 1213.7 1000.1C1215.7 1004.0 1217.6 1004.7 1219.6 1006.6C1221.5 1008.5 1223.5 1011.8 1225.4 1011.8C1227.4 1011.8 1229.3 1006.0 1231.3 1006.0C1233.5 1006.0 1235.6 1008.3 1237.8 1010.5C1240.0 1012.7 1242.2 1021.8 1244.4 1022.3C1246.1 1022.7 1247.9 1022.9 1249.6 1022.9C1250.5 1022.9 1251.3 1016.5 1252.2 1013.1C1253.5 1008.0 1254.8 996.8 1256.1 996.8C1257.4 996.8 1258.7 998.9 1260.0 1001.4C1261.3 1003.9 1262.6 1018.0 1263.9 1019.7C1265.0 1021.2 1266.1 1022.3 1267.2 1022.3C1268.7 1022.3 1270.3 1018.4 1271.8 1018.4C1272.9 1018.4 1273.9 1018.4 1275.0 1018.4C1275.9 1018.4 1276.8 1008.9 1277.7 1008.6C1279.0 1008.1 1280.3 1008.4 1281.6 1007.9C1282.6 1007.5 1283.5 805.9 1284.5 805.9L1285.5 1011.8C1287.5 1011.8 1289.4 1011.8 1291.4 1011.8C1292.5 1011.8 1293.5 1009.9 1294.6 1007.9C1295.5 1006.3 1296.3 997.5 1297.2 997.5C1299.2 997.5 1301.1 1002.7 1303.1 1002.7C1304.4 1002.7 1305.7 992.3 1307.0 992.3C1308.1 992.3 1309.2 993.6 1310.3 993.6C1311.8 993.6 1313.3 988.2 1314.8 987.0C1316.3 985.7 1317.9 985.7 1319.4 984.4C1320.9 983.1 1322.5 980.3 1324.0 977.2C1325.5 974.2 1327.0 972.6 1328.5 964.8C1329.0 962.4 1329.4 955.9 1329.9 945.3C1330.3 935.5 1330.8 868.3 1331.2 868.3C1332.1 868.3 1332.9 869.8 1333.8 876.1L1334.4 938.7C1334.8 952.6 1335.3 960.9 1335.7 960.9C1337.0 960.9 1338.3 955.5 1339.6 953.1C1341.4 949.8 1343.1 947.7 1344.9 944.0C1346.2 941.2 1347.5 937.9 1348.8 933.5C1350.1 929.1 1351.4 919.4 1352.7 915.3C1354.0 911.2 1355.3 909.8 1356.6 906.1C1357.2 904.5 1357.7 902.5 1358.3 900.3C1360.6 891.5 1362.8 878.2 1365.1 867.0C1366.9 858.1 1368.7 851.5 1370.5 840.3C1372.3 829.3 1374.0 810.2 1375.8 795.8C1377.3 783.6 1378.8 778.0 1380.3 760.2C1381.2 749.9 1382.0 728.1 1382.9 706.8C1383.5 692.1 1384.1 671.2 1384.7 653.4C1385.3 635.6 1385.9 610.1 1386.5 600.0C1387.1 589.9 1387.7 593.8 1388.3 578.8L1389.0 472.0L1390.1 466.2L1391.2 472.0L1392.2 578.8C1392.8 604.7 1393.3 609.4 1393.9 625.1C1394.7 646.3 1395.4 670.3 1396.2 690.0C1397.1 713.1 1398.0 738.1 1398.9 753.3C1399.8 768.5 1400.7 778.5 1401.6 788.9C1402.8 802.4 1403.9 815.6 1405.1 824.4C1406.6 835.8 1408.1 842.9 1409.6 851.1C1411.4 860.7 1413.1 871.1 1414.9 877.8C1417.3 886.8 1419.6 891.8 1422.0 899.1C1425.0 908.3 1427.9 919.5 1430.9 927.6C1433.9 935.7 1436.8 942.4 1439.8 948.9C1442.8 955.4 1445.7 961.8 1448.7 966.7C1451.7 971.6 1454.6 975.6 1457.6 979.1C1460.5 982.5 1463.5 985.1 1466.4 988.0C1467.6 989.2 1468.8 991.0 1470.0 991.6C1471.2 992.2 1472.3 992.3 1473.5 992.7C1476.7 993.7 1479.8 995.7 1483.0 995.7C1486.2 995.7 1489.3 994.9 1492.5 993.9C1494.9 993.2 1497.2 991.1 1499.6 989.1C1502.0 987.1 1504.4 984.4 1506.8 980.8C1508.6 978.2 1510.3 978.5 1512.1 970.2C1512.7 967.4 1513.3 748.0 1513.9 748.0C1514.4 748.0 1515.0 960.0 1515.5 960.0C1516.5 960.0 1517.6 954.9 1518.6 951.2C1520.2 945.5 1521.8 935.4 1523.4 927.4C1525.0 919.6 1526.5 914.4 1528.1 903.7C1528.9 898.3 1529.7 888.4 1530.5 881.0C1532.0 867.1 1533.5 850.9 1535.0 840.0C1537.0 825.4 1539.0 804.2 1541.0 804.2C1542.7 804.2 1544.3 834.0 1546.0 850.0C1547.3 862.8 1548.7 875.9 1550.0 890.0C1551.3 903.8 1552.6 921.0 1553.9 934.0C1555.9 954.4 1558.0 970.5 1560.0 988.0C1561.7 1002.4 1563.3 1018.3 1565.0 1030.0C1566.7 1041.7 1568.3 1052.2 1570.0 1060.0C1570.8 1063.9 1571.7 1070.0 1572.5 1070.0L1573.2 1034.0L1574.0 1083.0C1575.5 1094.7 1577.1 1097.5 1578.6 1097.5C1580.4 1097.5 1582.2 1097.5 1584.0 1097.5C1586.0 1097.5 1588.1 1119.1 1590.1 1119.1C1592.4 1119.1 1594.8 1112.2 1597.1 1103.7C1598.6 1098.1 1600.2 1080.9 1601.7 1065.1C1603.2 1049.3 1604.8 1015.3 1606.3 1003.4C1608.9 983.4 1611.4 963.3 1614.0 963.3C1616.1 963.3 1618.1 978.3 1620.2 988.0C1622.3 997.7 1624.3 1016.8 1626.4 1023.5C1630.0 1035.2 1633.6 1046.6 1637.2 1046.6C1639.8 1046.6 1642.3 1040.5 1644.9 1034.2C1647.5 1027.9 1650.0 1008.1 1652.6 995.7C1654.9 984.6 1657.2 963.3 1659.5 963.3C1661.8 963.3 1664.2 986.5 1666.5 1003.4C1669.1 1022.0 1671.6 1063.9 1674.2 1080.5C1677.3 1100.3 1680.3 1123.7 1683.4 1123.7C1685.5 1123.7 1687.5 1107.7 1689.6 1096.0C1691.1 1087.4 1692.7 1067.4 1694.2 1062.0C1695.5 1057.4 1696.8 1052.8 1698.1 1052.8C1699.9 1052.8 1701.7 1072.4 1703.5 1075.9C1705.6 1079.9 1707.6 1083.6 1709.7 1083.6C1712.0 1083.6 1714.3 1062.4 1716.6 1053.4C1719.0 1044.2 1721.3 1028.5 1723.7 1028.5C1725.3 1028.5 1726.9 1038.2 1728.5 1047.5C1729.7 1054.3 1730.8 1073.0 1732.0 1083.1C1734.0 1100.4 1736.0 1127.0 1738.0 1127.0C1739.2 1127.0 1740.3 1125.9 1741.5 1124.6C1743.9 1122.0 1746.2 1089.0 1748.6 1089.0C1751.4 1089.0 1754.2 1108.0 1757.0 1108.0C1760.5 1108.0 1764.1 1068.2 1767.6 1068.2C1769.2 1068.2 1770.8 1085.5 1772.4 1094.9C1774.4 1106.4 1776.3 1131.7 1778.3 1131.7C1780.7 1131.7 1783.0 1109.2 1785.4 1109.2C1788.2 1109.2 1790.9 1127.0 1793.7 1127.0C1796.3 1127.0 1798.8 1102.0 1801.4 1102.0C1804.0 1102.0 1806.6 1136.4 1809.2 1136.4C1811.4 1136.4 1813.5 1094.9 1815.7 1094.9C1817.5 1094.9 1819.2 1117.5 1821.0 1117.5C1822.6 1117.5 1824.2 1098.5 1825.8 1098.5C1827.4 1098.5 1828.9 1109.3 1830.5 1116.3C1832.1 1123.4 1833.7 1142.4 1835.3 1142.4C1837.7 1142.4 1840.0 1140.5 1842.4 1138.2C1845.0 1135.7 1847.5 1118.1 1850.1 1118.1C1851.5 1118.1 1852.8 1134.4 1854.2 1136.4C1857.0 1140.5 1859.8 1143.0 1862.6 1143.0C1864.2 1143.0 1865.7 1111.2 1867.3 1110.3C1868.5 1109.6 1869.7 1109.2 1870.9 1109.2C1872.1 1109.2 1873.2 1113.9 1874.4 1113.9C1875.5 1113.9 1876.7 1109.2 1877.8 1109.2C1879.0 1109.2 1880.1 1113.4 1881.3 1113.4C1882.5 1113.4 1883.7 1099.1 1884.9 1099.1C1886.3 1099.1 1887.7 1114.9 1889.1 1115.2C1890.9 1115.5 1892.6 1115.3 1894.4 1115.7C1895.0 1115.8 1895.6 1121.7 1896.2 1121.7C1897.6 1121.7 1898.9 1109.8 1900.3 1109.8C1901.5 1109.8 1902.7 1122.4 1903.9 1122.9C1905.5 1123.6 1907.0 1123.2 1908.6 1124.0C1909.2 1124.3 1909.8 1128.8 1910.4 1128.8C1911.4 1128.8 1912.4 1118.1 1913.4 1118.1C1914.6 1118.1 1915.7 1125.9 1916.9 1127.6C1918.5 1130.0 1920.1 1132.4 1921.7 1132.4C1923.1 1132.4 1924.4 1125.2 1925.8 1125.2C1927.2 1125.2 1928.6 1129.0 1930.0 1131.2C1931.4 1133.3 1932.7 1138.3 1934.1 1138.3C1935.1 1138.3 1936.1 1131.2 1937.1 1131.2C1939.1 1131.2 1941.0 1139.5 1943.0 1139.5C1944.6 1139.5 1946.2 1137.1 1947.8 1137.1C1948.6 1137.1 1949.3 1141.7 1950.1 1143.0C1951.7 1145.6 1953.3 1148.4 1954.9 1148.4C1956.1 1148.4 1957.2 1144.8 1958.4 1144.8C1960.4 1144.8 1962.4 1154.9 1964.4 1154.9C1965.2 1154.9 1965.9 1135.9 1966.7 1135.9C1967.9 1135.9 1969.1 1136.6 1970.3 1138.3C1970.7 1138.9 1971.1 1147.8 1971.5 1147.8C1973.1 1147.8 1974.6 1147.8 1976.2 1147.8C1977.4 1147.8 1978.6 1156.8 1979.8 1158.4C1981.8 1161.0 1983.7 1160.6 1985.7 1163.2C1986.5 1164.3 1987.3 1168.1 1988.1 1169.1C1989.7 1171.0 1991.2 1172.7 1992.8 1172.7C1994.0 1172.7 1995.2 1162.0 1996.4 1162.0C1997.4 1162.0 1998.4 1177.4 1999.4 1177.4C2000.0 1177.4 2000.5 1135.9 2001.1 1122.9C2002.1 1100.0 2003.1 1071.9 2004.1 1071.9C2005.1 1071.9 2006.1 1081.7 2007.1 1089.7C2007.9 1095.8 2008.6 1110.9 2009.4 1116.9C2010.6 1126.3 2011.8 1130.2 2013.0 1137.1L2014.0 1142.9C2017.0 1152.9 2019.9 1155.9 2022.9 1160.4C2025.6 1164.5 2028.3 1167.4 2031.0 1170.5C2034.1 1174.0 2037.3 1176.7 2040.4 1180.2C2046.3 1186.8 2052.1 1196.2 2058.0 1202.2C2063.9 1208.2 2069.7 1212.1 2075.6 1217.6C2082.9 1224.4 2090.3 1232.3 2097.6 1239.6C2104.2 1246.2 2110.8 1251.0 2117.4 1259.3C2118.9 1261.1 2120.3 1266.0 2121.8 1266.0C2122.3 1266.0 2122.9 1256.5 2123.4 1256.5L2124.6 1269.5C2125.9 1274.3 2127.1 1274.2 2128.4 1276.9C2131.4 1283.3 2134.3 1292.0 2137.3 1299.5" fill="none" stroke="#0000ff" stroke-width="4" stroke-linejoin="round" stroke-linecap="round"/>
<rect x="265.0" y="20.0" width="1873.5" height="1477.0" fill="none" stroke="#000" stroke-width="6" shape-rendering="crispEdges"/>
<path d="M236 231H265.0 M236 583H265.0 M236 934H265.0 M236 1286H265.0 M249 55.2H265.0 M249 406.8H265.0 M249 758.4H265.0 M249 1110.1H265.0 M249 1461.7H265.0 M264.5 1497.0V1526 M576.8 1497.0V1526 M889.2 1497.0V1526 M1201.5 1497.0V1526 M1513.8 1497.0V1526 M1826.1 1497.0V1526 M2138.5 1497.0V1526 M358.5 1497.0V1513 M413.5 1497.0V1513 M452.5 1497.0V1513 M482.8 1497.0V1513 M507.5 1497.0V1513 M528.4 1497.0V1513 M546.6 1497.0V1513 M562.5 1497.0V1513 M670.9 1497.0V1513 M725.8 1497.0V1513 M764.9 1497.0V1513 M795.1 1497.0V1513 M819.9 1497.0V1513 M840.8 1497.0V1513 M858.9 1497.0V1513 M874.9 1497.0V1513 M983.2 1497.0V1513 M1038.2 1497.0V1513 M1077.2 1497.0V1513 M1107.5 1497.0V1513 M1132.2 1497.0V1513 M1153.1 1497.0V1513 M1171.2 1497.0V1513 M1187.2 1497.0V1513 M1295.5 1497.0V1513 M1350.5 1497.0V1513 M1389.5 1497.0V1513 M1419.8 1497.0V1513 M1444.5 1497.0V1513 M1465.4 1497.0V1513 M1483.6 1497.0V1513 M1499.5 1497.0V1513 M1607.8 1497.0V1513 M1662.8 1497.0V1513 M1701.9 1497.0V1513 M1732.1 1497.0V1513 M1756.9 1497.0V1513 M1777.8 1497.0V1513 M1795.9 1497.0V1513 M1811.9 1497.0V1513 M1920.2 1497.0V1513 M1975.2 1497.0V1513 M2014.2 1497.0V1513 M2044.5 1497.0V1513 M2069.2 1497.0V1513 M2090.1 1497.0V1513 M2108.2 1497.0V1513 M2124.2 1497.0V1513" fill="none" stroke="#000" stroke-width="6" shape-rendering="crispEdges"/>
<text x="222" y="245.7" font-size="53.5" text-anchor="end">-75</text>
<text x="222" y="597.3" font-size="53.5" text-anchor="end">-100</text>
<text x="222" y="949.0" font-size="53.5" text-anchor="end">-125</text>
<text x="222" y="1300.6" font-size="53.5" text-anchor="end">-150</text>
<text x="264.5" y="1592" font-size="52.5" text-anchor="middle">10<tspan font-size="30" dy="-30.5">-1</tspan></text>
<text x="576.8" y="1592" font-size="52.5" text-anchor="middle">10<tspan font-size="30" dy="-30.5">0</tspan></text>
<text x="889.2" y="1592" font-size="52.5" text-anchor="middle">10<tspan font-size="30" dy="-30.5">1</tspan></text>
<text x="1201.5" y="1592" font-size="52.5" text-anchor="middle">10<tspan font-size="30" dy="-30.5">2</tspan></text>
<text x="1513.8" y="1592" font-size="52.5" text-anchor="middle">10<tspan font-size="30" dy="-30.5">3</tspan></text>
<text x="1826.1" y="1592" font-size="52.5" text-anchor="middle">10<tspan font-size="30" dy="-30.5">4</tspan></text>
<text x="2138.5" y="1592" font-size="52.5" text-anchor="middle">10<tspan font-size="30" dy="-30.5">5</tspan></text>
<text x="1223.2" y="1657.5" font-size="64.4" text-anchor="middle">Frequency/Hz</text>
<text transform="translate(75.3 755) rotate(-90)" x="0" y="0" font-size="64.1" text-anchor="middle">Power Spectral Density/dBc/Hz</text>
<text x="618.7" y="393" font-size="70" fill="#0000ff">(b)</text>
<text x="617.6" y="837" font-size="70" fill="#ff0000">(a)</text>
<text x="1100.4" y="434.5" font-size="70" fill="#ff0000">peak2</text>
<text x="1043.3" y="613" font-size="70" fill="#ff0000">peak1</text>
<path d="M1214.8 437.4L1351.2 523.5" stroke="#ff0000" stroke-width="3.2" fill="none"/><path d="M1377.4 540.0L1343.0 528.9L1352.6 513.7Z" fill="#ff0000"/>
<path d="M1129.6 619.9L1320.0 717.8" stroke="#ff0000" stroke-width="3.2" fill="none"/><path d="M1347.6 732.0L1312.4 724.0L1320.6 708.0Z" fill="#ff0000"/>
<path d="M395 1381.5H522" stroke="#ff0000" stroke-width="3.2"/>
<path d="M395 1449.5H522" stroke="#0000ff" stroke-width="3.2"/>
<text x="534.5" y="1401.3" font-size="55">(a) 212km Cascaded link</text>
<text x="534.5" y="1469" font-size="55">(b) 106 km free running</text>
</svg></body></html>
